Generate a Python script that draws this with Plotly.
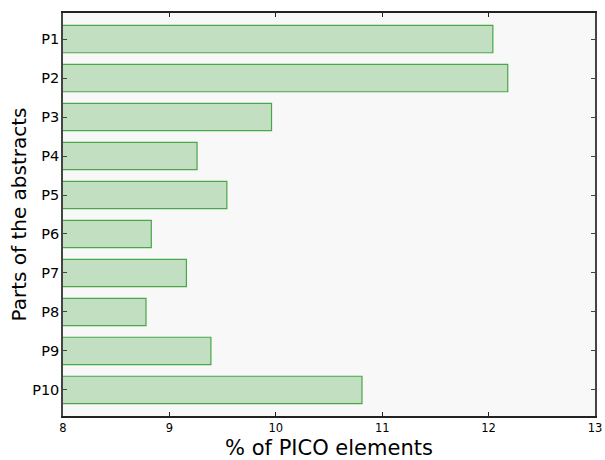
import plotly.graph_objects as go

categories = ["P1", "P2", "P3", "P4", "P5", "P6", "P7", "P8", "P9", "P10"]
values = [12.04, 12.18, 9.96, 9.26, 9.54, 8.83, 9.16, 8.78, 9.39, 10.81]
x_ticks = [8, 9, 10, 11, 12, 13]

fig = go.Figure(go.Bar(
    y=categories, x=values, orientation="h", base=0, width=0.7,
    marker=dict(color="#c2dfc1", line=dict(color="#4aa64a", width=1.2)),
))

fig.update_layout(
    width=605, height=460,
    margin=dict(l=63, r=10, t=13, b=44, autoexpand=False),
    paper_bgcolor="white", plot_bgcolor="#f8f8f8",
    font=dict(family="DejaVu Sans", color="black"),
    showlegend=False,
    xaxis=dict(
        range=[8, 13], tickvals=x_ticks, ticks="inside", ticklen=4, tickcolor="#222",
        showgrid=False, zeroline=False, showline=True, linecolor="#222", linewidth=1.5,
        mirror="ticks", tickfont=dict(size=11.5), automargin=False,
        title=dict(text="% of PICO elements", font=dict(size=21), standoff=8),
    ),
    yaxis=dict(
        categoryorder="array", categoryarray=categories,
        range=[9.67, -0.67], ticks="inside", ticklen=4, tickcolor="#444",
        showgrid=False, zeroline=False, showline=True, linecolor="#444", linewidth=1.5,
        mirror="ticks", tickfont=dict(size=14.5), automargin=False, ticklabelstandoff=-1,
        title=dict(text="Parts of the abstracts", font=dict(size=20), standoff=0),
    ),
)

fig.write_html(
    "out.html",
    config={"displayModeBar": False},
    post_script="document.body.style.margin='0';document.body.style.padding='0';",
)
